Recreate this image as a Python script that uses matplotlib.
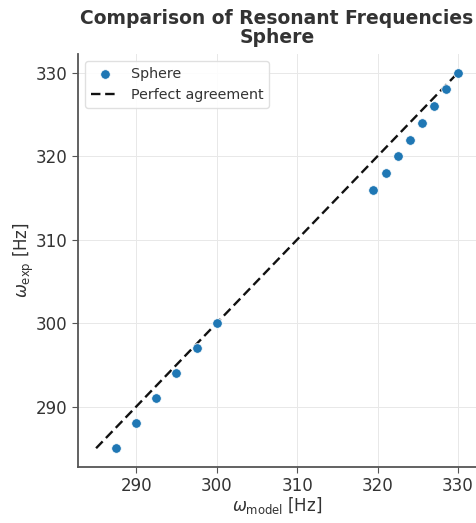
import matplotlib

matplotlib.use('Agg')
import matplotlib.pyplot as plt
import numpy as np

# resonant frequencies
omega_model = [287.5, 290, 292.5, 295, 297.5, 300,
               319.5, 321, 322.5, 324, 325.5, 327, 328.5, 330]
omega_exp = [285, 288, 291, 294, 297, 300,
             316, 318, 320, 322, 324, 326, 328, 330]
line_ends = [285, 330]

txt = '#333333'
plt.rcParams['font.family'] = 'DejaVu Sans'
plt.rcParams['text.color'] = txt
plt.rcParams['axes.labelcolor'] = txt
plt.rcParams['xtick.color'] = '#555555'
plt.rcParams['ytick.color'] = '#555555'
plt.rcParams['xtick.labelcolor'] = txt
plt.rcParams['ytick.labelcolor'] = txt

fig = plt.figure(figsize=(4.77, 5.23), dpi=100)
ax = fig.add_axes([78 / 477, 1 - 467 / 523, 398 / 477, 413 / 523])

ax.scatter(omega_model, omega_exp, s=48, color='#1f77b4',
           edgecolors='white', linewidths=0.6, label='Sphere', zorder=3)
ax.plot(line_ends, line_ends, color='#111111', ls=(0, (4, 2)), lw=1.7,
        label='Perfect agreement', zorder=2)

ax.set_xticks([290, 300, 310, 320, 330])
ax.set_yticks([290, 300, 310, 320, 330])
ax.tick_params(labelsize=12, length=4, width=0.8)
ax.grid(True, color='#e8e8e8', lw=0.7)
ax.set_axisbelow(True)
for s in ['top', 'right']:
    ax.spines[s].set_visible(False)
for s in ['left', 'bottom']:
    ax.spines[s].set_color('#555555')
    ax.spines[s].set_linewidth(1.3)

ax.set_xlabel(r'$\omega_{\mathrm{model}}$ [Hz]', fontsize=12, labelpad=0)
ax.set_ylabel(r'$\omega_{\mathrm{exp}}$ [Hz]', fontsize=12, labelpad=0)
ax.set_title('Comparison of Resonant Frequencies\nSphere', fontsize=13.5,
             fontweight='bold', linespacing=1.0, pad=8)
ax.legend(loc='upper left', fontsize=10.3, framealpha=0.9, edgecolor='#dddddd',
          scatterpoints=1)

fig.savefig('out.png', dpi=100)
